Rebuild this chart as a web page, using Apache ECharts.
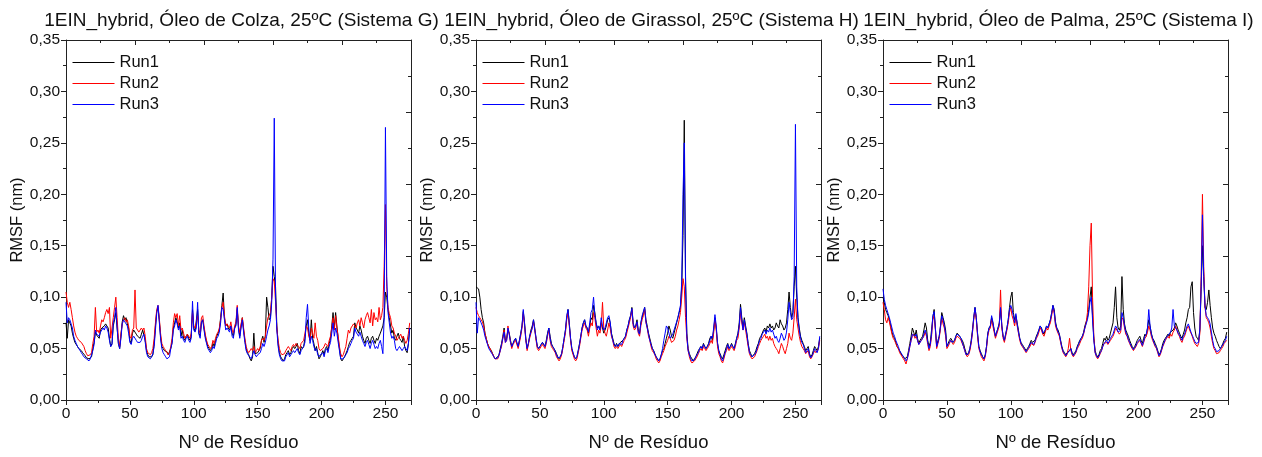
<!DOCTYPE html>
<html>
<head>
<meta charset="utf-8">
<script src="https://cdn.jsdelivr.net/npm/echarts@6/dist/echarts.min.js"></script>
<style>
html,body{margin:0;padding:0;background:#fff;}
#chart{width:1262px;height:457px;}
</style>
</head>
<body>
<div id="chart"></div>
<script>
// Residue numbers (x)
const residues = Array.from({length: 270}, (_, i) => i);
// RMSF values, in units of 0.001 nm (divided by 1000 when plotted)
const colzaRun1 = [
75,60,78,77,72,65,60,56,55,52, 50,50,48,46,45,43,41,40,40,41, 42,50,56,66,63,64,60,68,70,70,
72,74,75,70,60,52,55,72,78,85, 70,55,50,62,76,82,78,80,74,70, 58,55,65,68,66,64,62,62,60,64,
68,68,58,48,44,42,41,42,44,55, 72,86,90,78,62,52,50,48,49,47, 44,45,50,56,70,75,80,76,70,75,
62,68,60,58,62,64,60,58,62,88, 70,67,68,88,65,62,75,78,70,62, 56,52,50,48,50,55,52,58,62,65,
68,80,92,104,80,72,74,70,68,72, 65,62,70,74,88,70,62,72,80,68, 58,50,46,44,40,38,42,65,45,44,
46,45,50,58,62,56,62,100,90,78, 80,100,130,120,110,72,55,46,42,40, 38,40,44,46,48,44,46,50,52,50,
52,55,48,45,52,50,52,60,72,78, 65,58,78,60,55,48,52,46,40,42, 45,48,44,50,52,48,55,60,72,85,
70,85,72,60,50,40,38,40,42,45, 48,52,56,58,60,62,75,70,68,65, 72,68,62,58,55,60,62,58,55,60,
62,58,55,60,58,62,65,66,72,80, 105,100,88,80,72,65,68,60,58,62, 65,60,58,56,62,52,48,46,55,70];
const colzaRun2 = [
105,95,90,95,88,80,72,66,62,60, 58,57,56,55,52,48,45,43,42,44, 46,55,62,90,66,68,65,72,78,76,
80,85,88,84,90,60,70,80,90,100, 80,60,52,65,74,78,80,76,78,72, 62,60,68,70,107,70,68,66,68,70,
68,70,62,50,46,45,44,46,50,60, 75,88,92,80,65,55,52,50,48,46, 44,46,52,60,75,84,80,84,72,82,
68,70,65,60,62,64,62,60,65,85, 72,70,75,82,68,65,80,82,72,64, 58,54,52,50,52,58,55,60,64,66,
70,78,90,95,82,72,74,72,70,76, 68,65,72,76,92,72,65,74,80,70, 60,52,48,46,45,50,48,52,46,48,
50,48,52,58,60,58,62,72,80,82, 85,100,118,115,95,70,58,50,46,44, 44,45,48,50,52,50,48,52,54,52,
55,56,52,50,55,56,58,65,72,70, 62,58,70,65,60,75,62,58,50,48, 48,50,52,55,54,52,58,62,70,80,
68,82,70,62,52,45,42,44,48,52, 60,68,65,70,72,74,72,70,75,78, 72,80,75,70,78,82,85,80,75,88,
72,85,78,80,76,90,78,82,90,130, 190,110,90,84,80,72,70,65,62,58, 60,62,64,60,62,58,55,58,65,75];
const colzaRun3 = [
95,75,80,78,74,70,62,58,55,52, 50,48,46,44,42,41,40,39,38,40, 41,48,54,68,64,65,62,66,68,70,
68,72,70,66,58,52,54,75,80,90, 70,55,50,60,74,78,76,74,72,65, 56,54,60,62,62,58,56,55,56,58,
62,64,56,46,42,41,40,42,45,52, 68,84,92,76,60,50,46,44,42,40, 40,42,50,55,68,72,78,74,68,72,
60,62,58,56,60,62,58,56,60,96, 68,66,70,95,64,60,76,78,68,60, 55,50,48,46,48,52,50,55,60,62,
66,75,90,88,78,68,70,68,66,72, 62,60,70,72,90,68,60,70,78,66, 56,48,45,43,42,40,44,48,44,42,
44,43,46,50,55,52,56,62,68,72, 78,95,137,274,100,68,52,44,40,38, 37,38,42,44,46,42,44,46,48,46,
48,50,46,44,48,50,52,56,80,93, 70,55,62,58,52,48,50,44,42,44, 44,46,42,48,50,46,52,56,65,75,
62,70,65,56,48,40,39,40,42,44, 46,50,52,55,58,60,70,66,64,62, 66,62,58,55,52,56,58,54,50,55,
58,54,50,52,50,55,58,52,45,80, 265,120,85,75,65,60,62,58,50,48, 50,52,52,48,50,52,50,48,55,70];

const girassolRun1 = [
110,111,108,100,88,80,75,65,60,55, 52,50,48,45,42,40,40,42,44,50, 55,62,70,58,60,68,65,58,52,55,
58,60,55,52,58,65,72,86,75,60, 50,55,62,68,72,78,70,60,52,50, 52,54,56,55,52,58,65,70,62,55,
52,50,48,45,42,40,42,45,52,60, 68,80,88,75,60,50,45,42,40,42, 48,55,62,70,75,78,72,70,65,72,
80,78,92,85,75,70,72,68,75,70, 65,68,72,78,80,75,65,60,55,52, 55,52,54,56,55,58,60,62,68,72,
78,82,90,75,70,72,78,68,65,75, 80,85,90,78,72,65,60,55,50,48, 45,42,40,38,40,44,48,50,55,60,
65,72,68,62,60,65,70,75,80,85, 90,110,160,272,120,65,50,45,42,40, 38,40,42,45,48,50,52,50,55,52,
50,52,55,60,62,58,68,80,70,55, 48,45,42,40,44,48,52,55,50,52, 55,52,50,55,60,65,75,93,80,70,
80,72,65,55,48,45,42,42,45,48, 52,55,60,62,65,68,70,66,72,70, 74,70,72,68,70,75,72,70,78,74,
72,68,70,75,88,105,90,80,85,110, 130,100,80,70,62,58,55,52,48,50, 52,45,42,44,48,52,50,48,52,60];
const girassolRun2 = [
90,85,82,80,78,76,72,65,60,55, 52,50,47,45,42,40,39,40,43,48, 52,60,68,56,58,72,64,56,50,54,
56,58,54,50,56,62,70,84,72,58, 48,54,60,65,70,76,68,58,50,48, 50,52,54,52,50,55,62,68,58,52,
50,48,46,42,40,38,40,44,50,58, 65,78,85,72,58,48,44,40,38,40, 46,52,60,68,72,75,70,68,62,70,
75,72,85,80,70,62,68,65,72,95, 70,65,62,68,75,70,62,58,52,50, 52,50,52,54,52,55,58,60,65,70,
75,80,88,72,68,70,75,65,62,72, 78,82,88,75,70,62,58,52,48,46, 44,40,38,36,38,42,45,48,52,55,
58,62,60,56,55,58,62,68,72,78, 85,100,118,110,80,60,48,42,38,36, 36,38,40,42,45,48,50,48,52,50,
48,50,52,55,58,55,65,78,68,52, 45,42,38,36,40,45,48,52,48,50, 52,50,48,52,58,60,70,85,75,68,
75,68,60,52,45,42,40,40,42,45, 48,52,55,58,60,62,64,60,62,58, 62,58,60,55,52,50,48,45,50,55,
52,48,45,50,55,65,60,58,65,80, 98,78,70,62,56,52,50,48,45,46, 48,42,40,42,45,48,46,45,50,58];
const girassolRun3 = [
95,65,80,78,75,72,68,62,58,54, 50,48,46,44,42,40,40,41,44,48, 54,60,66,56,58,70,64,56,52,55,
58,60,56,52,58,64,72,88,74,58, 50,55,62,66,70,78,68,60,52,50, 52,54,56,54,52,56,64,70,60,54,
52,50,47,44,41,40,42,45,52,60, 68,82,88,74,60,50,46,42,40,42, 48,54,62,70,75,78,72,70,66,75,
85,88,100,82,75,68,72,68,80,72, 68,70,75,80,82,76,64,58,54,52, 54,52,55,56,54,58,60,62,68,72,
78,82,89,74,70,72,76,66,64,75, 82,86,90,76,70,64,58,54,50,48, 44,42,40,38,40,44,50,58,65,72,
70,65,60,62,64,68,72,76,80,86, 92,115,200,250,110,62,48,44,40,38, 37,39,42,44,46,50,52,50,54,52,
50,52,54,58,62,60,70,83,72,56, 48,44,40,38,42,46,50,54,50,52, 54,52,50,54,60,64,72,90,78,68,
78,70,64,54,46,44,42,42,44,46, 50,54,58,60,64,66,68,64,68,66, 70,66,68,64,60,62,58,56,60,65,
62,58,60,66,78,95,85,78,80,120, 268,110,78,68,60,56,54,50,46,48, 50,44,41,43,46,50,48,46,50,62];

const palmaRun1 = [
100,95,88,85,82,78,72,66,62,60, 56,52,50,48,45,44,42,40,40,42, 48,55,62,70,66,62,68,60,55,58,
60,62,68,75,70,58,52,56,68,80, 88,70,52,58,62,72,85,80,75,68, 52,55,58,60,58,56,58,62,65,64,
62,60,58,55,50,46,44,46,50,58, 68,80,90,80,65,52,48,45,42,40, 44,52,65,70,72,80,75,68,62,66,
70,75,88,72,62,58,64,70,78,90, 100,105,85,78,82,75,68,60,56,54, 52,50,48,50,52,55,58,56,55,58,
62,65,68,72,70,66,64,68,72,70, 74,78,85,92,88,76,70,68,64,58, 52,48,46,44,46,45,48,50,46,44,
46,48,52,55,58,60,62,66,72,76, 80,88,100,110,82,60,48,44,42,44, 48,50,55,60,58,62,58,60,65,70,
75,90,110,80,70,68,72,120,88,74, 68,65,62,58,55,52,50,52,55,58, 60,62,58,55,60,64,62,70,78,72,
65,60,58,55,52,48,44,46,50,55, 58,60,62,64,62,66,65,68,70,75, 72,68,65,62,60,64,68,75,80,88,
90,110,115,85,70,62,60,58,68,110, 150,120,90,88,95,107,92,80,70,65, 62,58,55,52,50,52,55,58,60,66];
const palmaRun2 = [
95,88,78,75,80,76,70,64,60,58, 55,52,50,46,44,42,40,38,35,40, 45,52,58,62,64,60,62,58,54,56,
58,60,62,66,62,54,48,52,62,78, 82,68,50,55,60,70,80,74,70,62, 50,52,55,58,56,54,56,60,62,62,
60,58,55,52,48,44,42,44,48,55, 65,78,88,78,62,50,46,42,40,38, 42,50,62,68,70,78,72,66,60,64,
68,72,107,70,60,56,62,68,75,85, 90,82,78,72,80,72,65,58,54,52, 50,48,46,48,50,52,55,54,53,56,
60,62,66,70,68,64,62,66,70,68, 72,75,82,90,84,72,68,65,62,56, 50,46,44,42,44,50,60,48,44,42,
44,46,50,52,55,58,60,64,70,75, 85,110,150,172,100,62,46,42,40,42, 45,48,52,55,54,56,54,55,58,60,
62,65,70,68,66,64,66,80,78,70, 64,62,58,55,52,50,48,50,52,55, 56,58,55,52,56,60,62,66,72,68,
62,58,55,52,50,46,42,44,48,52, 55,58,60,62,60,64,62,66,68,72, 68,64,62,58,56,60,62,66,70,72,
68,65,62,58,55,54,52,55,65,120, 200,130,90,80,78,75,70,62,55,50, 48,45,44,46,48,50,52,55,56,58];
const palmaRun3 = [
108,98,92,88,84,80,75,70,65,62, 58,55,52,48,46,44,42,40,38,40, 46,52,58,64,65,62,64,58,54,56,
58,60,64,68,64,56,50,54,64,82, 86,70,52,56,62,72,82,78,72,65, 52,54,56,58,56,55,58,62,64,63,
62,60,56,52,48,44,43,45,50,56, 66,80,90,80,64,52,47,44,42,40, 43,52,64,70,72,82,76,68,62,66,
70,74,90,72,62,58,64,70,78,88, 92,88,82,75,84,74,66,60,55,53, 51,49,47,49,51,54,56,55,54,57,
61,64,68,72,70,65,64,68,72,70, 74,78,84,92,86,74,70,66,64,57, 51,47,45,43,45,46,48,50,45,43,
45,47,51,54,57,60,62,65,70,74, 78,85,95,100,78,58,46,43,41,43, 46,48,52,55,55,58,55,57,60,62,
64,68,72,70,66,65,68,85,80,72, 66,63,59,56,53,51,49,51,53,56, 57,59,56,53,57,62,64,70,88,72,
64,60,56,53,51,47,43,45,49,53, 56,59,61,63,62,66,70,88,72,70, 68,65,63,60,58,62,64,68,72,74,
70,66,63,60,57,55,54,56,70,110, 180,120,92,82,80,78,74,66,58,52, 50,47,46,48,50,52,54,56,58,62];

const panelTitles = [
  '1EIN_hybrid, Óleo de Colza, 25ºC (Sistema G)',
  '1EIN_hybrid, Óleo de Girassol, 25ºC (Sistema H)',
  '1EIN_hybrid, Óleo de Palma, 25ºC (Sistema I)'
];
const runNames = ['Run1', 'Run2', 'Run3'];
const runColors = ['#000000', '#ff0000', '#0000ff'];
const panelData = [
  [colzaRun1, colzaRun2, colzaRun3],
  [girassolRun1, girassolRun2, girassolRun3],
  [palmaRun1, palmaRun2, palmaRun3]
];
const xAxisName = 'Nº de Resíduo';
const yAxisName = 'RMSF (nm)';

const gridLefts = [66, 476, 883];
const gridWidth = 345;
const gridTop = 40, gridHeight = 360;
const FONT = '"Liberation Sans", Arial, sans-serif';
const axisColor = '#222222';
const textColor = '#111111';

const grids = [], xAxes = [], yAxes = [], series = [], titles = [], legends = [];
gridLefts.forEach((gl, p) => {
  grids.push({left: gl, top: gridTop, width: gridWidth, height: gridHeight, containLabel: false});
  titles.push({
    text: panelTitles[p], left: gl + gridWidth / 2 - 2, top: 6, textAlign: 'center',
    textStyle: {fontFamily: FONT, fontSize: 19, fontWeight: 'normal', color: textColor}
  });
  legends.push({
    data: runNames.map((n, i) => ({name: n, itemStyle: {opacity: 0},
      lineStyle: {color: runColors[i], width: 1, opacity: 1}})),
    orient: 'vertical', left: gl + 6, top: 54, itemWidth: 42, itemHeight: 14, itemGap: 4,
    textStyle: {fontFamily: FONT, fontSize: 16.5, color: textColor}, padding: 0
  });
  // bottom x axis
  xAxes.push({
    type: 'value', gridIndex: p, position: 'bottom', min: 0, max: 270, interval: 50,
    name: xAxisName, nameLocation: 'middle', nameGap: 33,
    nameTextStyle: {fontFamily: FONT, fontSize: 18.5, color: textColor},
    axisLine: {show: true, onZero: false, lineStyle: {color: axisColor, width: 1}},
    axisTick: {show: true, inside: false, length: 5, lineStyle: {color: axisColor}},
    minorTick: {show: true, splitNumber: 2, length: 3, lineStyle: {color: axisColor}},
    axisLabel: {fontFamily: FONT, fontSize: 15.5, color: textColor, margin: 6,
      formatter: v => (v % 50 === 0 ? String(v) : '')},
    splitLine: {show: false}
  });
  // top x axis (mirror)
  xAxes.push({
    type: 'value', gridIndex: p, position: 'top', min: 0, max: 270, interval: 54,
    axisLine: {show: true, onZero: false, lineStyle: {color: axisColor, width: 1}},
    axisTick: {show: true, inside: true, length: 5, lineStyle: {color: axisColor}},
    minorTick: {show: true, splitNumber: 2, length: 3, lineStyle: {color: axisColor}},
    axisLabel: {show: false}, splitLine: {show: false}
  });
  // left y axis
  yAxes.push({
    type: 'value', gridIndex: p, position: 'left', min: 0, max: 0.35, interval: 0.05,
    name: yAxisName, nameLocation: 'middle', nameGap: 40, nameRotate: 90,
    nameTextStyle: {fontFamily: FONT, fontSize: 16.5, color: textColor},
    axisLine: {show: true, onZero: false, lineStyle: {color: axisColor, width: 1}},
    axisTick: {show: true, inside: false, length: 5, lineStyle: {color: axisColor}},
    minorTick: {show: true, splitNumber: 2, length: 3, lineStyle: {color: axisColor}},
    axisLabel: {fontFamily: FONT, fontSize: 15.5, color: textColor, margin: 6,
      formatter: v => v.toFixed(2).replace('.', ',')},
    splitLine: {show: false}
  });
  // right y axis (mirror)
  yAxes.push({
    type: 'value', gridIndex: p, position: 'right', min: 0, max: 0.35, interval: 0.07,
    axisLine: {show: true, onZero: false, lineStyle: {color: axisColor, width: 1}},
    axisTick: {show: true, inside: true, length: 5, lineStyle: {color: axisColor}},
    minorTick: {show: true, splitNumber: 2, length: 3, lineStyle: {color: axisColor}},
    axisLabel: {show: false}, splitLine: {show: false}
  });
  panelData[p].forEach((vals, r) => {
    series.push({
      type: 'line', name: runNames[r], xAxisIndex: p * 2, yAxisIndex: p * 2,
      data: residues.map((x, i) => [x, vals[i] / 1000]),
      showSymbol: false, symbol: 'none', animation: false,
      lineStyle: {color: runColors[r], width: 1}, itemStyle: {color: runColors[r]},
      emphasis: {disabled: true}
    });
  });
});

const chart = echarts.init(document.getElementById('chart'), null, {renderer: 'canvas'});
chart.setOption({
  backgroundColor: '#ffffff',
  animation: false,
  title: titles,
  legend: legends,
  grid: grids,
  xAxis: xAxes,
  yAxis: yAxes,
  series: series
});
</script>
</body>
</html>
